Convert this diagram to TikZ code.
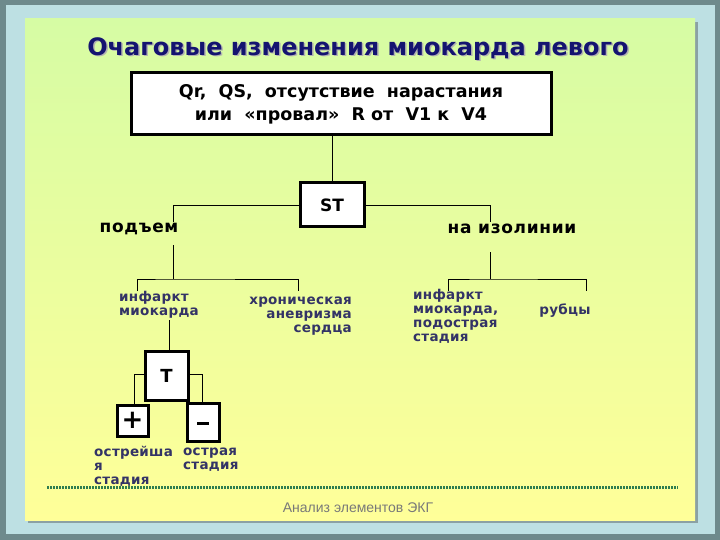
\documentclass[tikz,border=0pt]{standalone}
\usepackage{fontspec}
\setmainfont{DejaVu Sans}
\newfontfamily\labfont[LetterSpace=2]{DejaVu Sans}
\newfontfamily\headfont[LetterSpace=4]{DejaVu Sans}
\newfontfamily\footfont{Liberation Sans}
\definecolor{outerdark}{HTML}{6E8A8C}
\definecolor{frameblue}{HTML}{BDE0E3}
\definecolor{topgreen}{HTML}{D6FCA4}
\definecolor{botyellow}{HTML}{FFFF99}
\definecolor{navy}{HTML}{141470}
\definecolor{labblue}{HTML}{333366}
\definecolor{dotgreen}{HTML}{2E7D4F}
\tikzset{
  box/.style={draw=black, line width=3pt, fill=white, inner sep=0pt, font=\bfseries},
  lab/.style={text=labblue, font=\labfont\bfseries\fontsize{13.5}{14}\selectfont, inner sep=0pt, align=left},
  head/.style={font=\headfont\bfseries\fontsize{17}{20}\selectfont, inner sep=0pt},
  conn/.style={draw=black, line width=0.8pt}
}
\begin{document}
\begin{tikzpicture}[x=1pt,y=-1pt]
\useasboundingbox (0,0) rectangle (720,540);
% frame
\fill[outerdark] (0,0) rectangle (720,540);
\fill[frameblue] (6,5) rectangle (715,534);
\fill[outerdark!80] (28,22) rectangle (698,523);
\shade[top color=topgreen, bottom color=botyellow] (25,19) rectangle (695,520);
% title
\node[text=gray!60, font=\bfseries\fontsize{24}{27}\selectfont] at (359.5,50.5) {Очаговые изменения миокарда левого};
\node[text=navy, font=\bfseries\fontsize{24}{27}\selectfont] (title) at (358,49) {Очаговые изменения миокарда левого};
% main box
\node[box, minimum width=420pt, minimum height=62pt, align=center, font=\bfseries\fontsize{17.5}{23}\selectfont] (qbox) at (341,104)
  {Qr,\ \ QS,\ \ отсутствие\ \ нарастания\\ или\ \ «провал»\ \ R от\ \ V1 к\ \ V4};
\node[box, minimum width=64pt, minimum height=44pt, font=\bfseries\fontsize{17}{20}\selectfont] (st) at (332,205) {ST};
\draw[conn] (st.north) -- (st.north |- qbox.south);
% branches
\node[head] (up) at (139,229) {подъем};
\node[head] (iso) at (512,229) {на изолинии};
\coordinate (upA) at (173,222);
\coordinate (isoA) at (490,222);
\draw[conn] (st.west) -| (upA);
\draw[conn] (st.east) -| (isoA);
% left subtree
\coordinate (upB) at (173,245);
\coordinate (upC) at (173,279);
\coordinate (l1) at (137,291);
\coordinate (l2) at (298,291);
\draw[conn] (upB) -- (upC);
\draw[conn] (l1) |- (upC) -| (l2);
\node[lab, anchor=north west] (inf1) at (119,291) {инфаркт\\миокарда};
\node[lab, anchor=north east, align=right] (chr) at (352,297) {хроническая\\аневризма\\сердца};
% right subtree
\coordinate (isoB) at (490,252);
\coordinate (isoC) at (490,279);
\coordinate (r1) at (448,291);
\coordinate (r2) at (586,291);
\draw[conn] (isoB) -- (isoC);
\draw[conn] (r1) |- (isoC) -| (r2);
\node[lab, anchor=north west] (inf2) at (413,289) {инфаркт\\миокарда,\\подострая\\стадия};
\node[lab] (rub) at (565,311) {рубцы};
% T subtree
\node[box, minimum width=43pt, minimum height=49pt, font=\bfseries\fontsize{18}{20}\selectfont] (t) at (166.5,375.5) {T};
\coordinate (tA) at (169,320);
\draw[conn] (tA) -- (tA |- t.north);
\node[box, minimum width=31pt, minimum height=31pt, font=\bfseries\fontsize{26}{26}\selectfont] (plus) at (132.5,420.5) {+};
\node[box, minimum width=32pt, minimum height=38pt] (minus) at (203,422) {\rule[-5pt]{12pt}{2.2pt}};
\draw[conn] (t.west |- 0,374) -| (plus.north -| 134,0);
\draw[conn] (t.east |- 0,374) -| (minus.north -| 202,0);
\node[lab, anchor=north west] (sharp1) at (94,446) {острейша\\я\\стадия};
\node[lab, anchor=north west] (sharp2) at (183,448) {острая\\стадия};
% dotted line and footer
\coordinate (dl) at (47,487);
\coordinate (dr) at (678,487);
\draw[dotgreen, line width=3pt, dash pattern=on 2pt off 1pt] (dl) -- (dr);
\node[text=gray!95!black, font=\footfont\fontsize{14}{16}\selectfont] (foot) at (358,508) {Анализ элементов ЭКГ};
\end{tikzpicture}
\end{document}
